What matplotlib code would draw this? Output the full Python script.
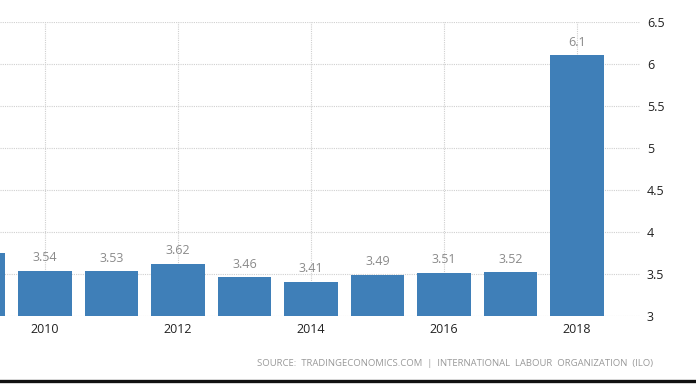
import matplotlib
matplotlib.use("Agg")
import matplotlib.pyplot as plt
from matplotlib.lines import Line2D

years = [2009, 2010, 2011, 2012, 2013, 2014, 2015, 2016, 2017, 2018]
values = [3.75, 3.54, 3.53, 3.62, 3.46, 3.41, 3.49, 3.51, 3.52, 6.1]
labels = ["", "3.54", "3.53", "3.62", "3.46", "3.41", "3.49", "3.51", "3.52", "6.1"]
xticks = [2010, 2012, 2014, 2016, 2018]
yticks = [3, 3.5, 4, 4.5, 5, 5.5, 6, 6.5]
ytick_labels = ["3", "3.5", "4", "4.5", "5", "5.5", "6", "6.5"]
source = "SOURCE:  TRADINGECONOMICS.COM  |  INTERNATIONAL  LABOUR  ORGANIZATION  (ILO)"

plt.rcParams['font.family'] = ['Open Sans', 'DejaVu Sans']

W, H = 696, 391
fig = plt.figure(figsize=(W / 100, H / 100), dpi=100)
ax = fig.add_axes([0, 75 / H, 640 / W, (316 - 21.7) / H])

bar_color = '#3f7fb8'
ax.bar(years, values, width=0.81, color=bar_color, zorder=2)
for x, v, lab in zip(years, values, labels):
    if lab:
        ax.text(x, v + 0.08, lab, ha='center', va='bottom', fontsize=9,
                color='#8a8a8a', zorder=3)

ax.set_xlim(2009.323, 2018.947)
ax.set_ylim(3, 6.5)
ax.set_xticks(xticks)
ax.set_xticklabels([str(t) for t in xticks], fontsize=9, color='#222222')
ax.set_yticks(yticks)
ax.set_yticklabels(ytick_labels, fontsize=9, color='#222222')
ax.yaxis.tick_right()
ax.tick_params(axis='both', length=0)
ax.tick_params(axis='y', pad=5)
ax.tick_params(axis='x', pad=5)
for s in ax.spines.values():
    s.set_visible(False)
ax.grid(True, color='#d0d0d0', linestyle=(0, (1, 1)), linewidth=0.8, zorder=0)
ax.set_axisbelow(True)

fig.text(653 / W, 1 - 363 / H, source, ha='right', va='center', fontsize=6.8,
         color='#999999')

fig.add_artist(Line2D([0, 1], [1 - 380.5 / H, 1 - 380.5 / H], color='#111111',
                      linewidth=2.4, transform=fig.transFigure))

fig.savefig("out.png", dpi=100)
